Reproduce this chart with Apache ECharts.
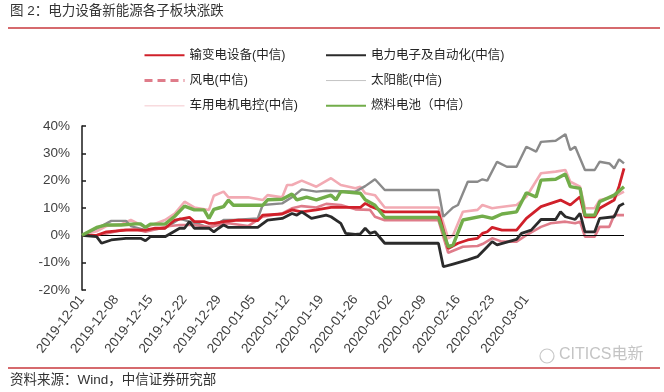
<!DOCTYPE html>
<html><head><meta charset="utf-8">
<script src="https://cdn.jsdelivr.net/npm/echarts@6/dist/echarts.min.js"></script>
<style>html,body{margin:0;padding:0;background:#fff}#c{width:664px;height:392px}</style>
</head><body><div id="c"></div>
<script>
// x values are day offsets from 2019-12-01; y values in %
const tickLabels = ['2019-12-01','2019-12-08','2019-12-15','2019-12-22','2019-12-29','2020-01-05','2020-01-12','2020-01-19','2020-01-26','2020-02-02','2020-02-09','2020-02-16','2020-02-23','2020-03-01'];
const yTicks = [-20,-10,0,10,20,30,40];

const shuBianDian = [[0,0],[3,0],[5,1.3],[9,1.9],[13,1.9],[15,2.6],[17,2.6],[19,5.6],[22,6.6],[23,5],[25,5],[26,4.4],[27,4.4],[29,5],[32,5.6],[36,5.4],[37,7.4],[41,7.8],[43,9.3],[45,8.6],[48,9.3],[51,10.2],[57,10.2],[58,11.7],[59,10.7],[62,8.6],[73,8.6],[75,-4.8],[77,-2.9],[79,-1.7],[81,-1.1],[82,0.7],[83,1.3],[84,2.9],[86,1.9],[89,1.9],[91,6.2],[94,10.5],[96,11.7],[98,12.9],[100,11.1],[102,14.1],[103,6.8],[105,6.8],[106,9.9],[109,12.9],[110,18],[111,24.5]];
const dianLiDianZi = [[0,0],[3,-0.5],[4,-2.9],[6,-1.7],[9,-1.1],[12,-1.1],[13,-2],[14,-0.5],[17,-0.5],[20,2.6],[21,2.6],[22,5],[23,2.6],[26,2.6],[27,1.3],[28,2.6],[29,3.8],[30,2.9],[36,2.9],[38,5.6],[41,6.2],[43,8],[44,7.4],[45,8.6],[47,6.2],[50,7.4],[51,6.8],[53,4.4],[54,0.7],[56,0.3],[57,0.5],[58,2.6],[59,0.7],[60,1.3],[62,-2.9],[73,-2.9],[74,-11.5],[76,-10.5],[79,-9],[81,-7.8],[83,-4.2],[84,-2.3],[85,-3.5],[87,-2.5],[89,-1.5],[90,0.7],[92,1.9],[94,5.8],[97,5.8],[98,8.6],[99,6.8],[101,5.8],[102,8],[103,1.3],[105,1.3],[106,6.2],[109,6.8],[110,10.7],[111,11.7]];
const fengDian = [[0,0],[3,0],[5,0.7],[8,1.9],[11,2.2],[13,1.3],[16,2.6],[18,3.4],[20,3.8],[23,3.8],[26,3.1],[27,3.4],[30,4.4],[34,3.4],[37,6.8],[41,8],[43,9.9],[45,10.7],[48,10.2],[50,11.5],[53,11.1],[56,9.5],[59,9.3],[60,6.8],[62,5.5],[73,5.5],[75,-6.4],[78,-4.2],[81,-3.9],[82,-3.2],[84,-1.1],[86,-2.3],[89,-2.3],[91,0.1],[94,3.1],[96,4.4],[99,5],[101,4.4],[102,5],[103,-0.5],[105,-0.5],[106,3.1],[108,3.1],[109,7.4],[111,7.4]];
const taiYangNeng = [[0,0],[3,2.5],[6,5.3],[9,5.3],[10,3.4],[13,1.9],[17,2.6],[20,6.1],[22,5],[24,4.1],[26,2.6],[27,3.4],[29,5.6],[31,5.6],[36,6.2],[37,11.1],[41,11.7],[43,13.9],[45,16.8],[48,16],[50,16.3],[56,16],[58,18],[60,20.5],[62,16.6],[73,16.6],[74,6.8],[76,10.2],[77,11.1],[79,19.6],[81,19.6],[82,20.5],[83,20],[85,26.9],[87,25.1],[89,25.1],[91,32.4],[93,30.6],[94,34.2],[97,34.6],[99,37],[100,31.2],[101,32.4],[103,23.9],[105,23.9],[106,26.9],[108,26.3],[109,24.5],[110,27.8],[111,26.3]];
const cheYong = [[0,0],[3,1.5],[5,3.4],[8,4],[10,5.6],[13,2.9],[17,5.6],[19,8],[21,12.3],[23,10.2],[26,9.3],[27,14.5],[29,16],[30,13.9],[34,13.9],[37,12.9],[38,14.7],[41,13.9],[42,18.4],[43,18.4],[45,20],[48,17.8],[51,20.9],[53,18.4],[56,17.2],[57,17.8],[58,15.4],[60,14.7],[62,10.2],[73,10.2],[75,-1.1],[76,0.1],[78,8.6],[81,9.3],[82,11.1],[84,9.9],[85,10.2],[89,11.1],[91,14.1],[94,22.7],[97,23.3],[99,23.9],[100,19.6],[102,17.8],[103,9.9],[105,9.9],[106,12.9],[109,14.1],[111,16]];
const ranLiao = [[0,0],[3,2.9],[5,3.8],[8,3.8],[11,4.2],[12,4.2],[13,2.9],[14,4.1],[17,4.1],[19,7],[21,10.7],[23,9.3],[25,9.3],[26,6.2],[27,9.5],[28,10],[29,10.5],[30,12.9],[31,11],[37,11],[38,13],[41,13.2],[43,15.1],[44,13],[46,14],[48,13],[51,14.7],[52,13],[53,16],[57,15.4],[58,13],[60,11],[62,6.5],[73,6.5],[75,-4.2],[76,-3.5],[78,5.6],[82,7],[84,6.2],[86,7.8],[89,8.6],[91,15.6],[93,14],[94,20.2],[97,20.5],[99,22.4],[100,17.8],[102,17.2],[103,7.4],[105,7.4],[106,12.3],[109,14.7],[111,17.8]];

const FONT = '"Liberation Sans","Noto Sans CJK SC",sans-serif';
const chart = echarts.init(document.getElementById('c'), null, {renderer:'canvas'});

function line(name, data, color, width, z){
  return {name, type:'line', data, symbol:'none', z, animation:false,
    lineStyle:{color, width}, itemStyle:{color}};
}

const series = [
  line('车用电机电控(中信)', cheYong, '#f2aab3', 2.6, 2),
  line('太阳能(中信)', taiYangNeng, '#8a8a8a', 2.4, 3),
  line('风电(中信)', fengDian, '#df7c8a', 2.6, 4),
  line('输变电设备(中信)', shuBianDian, '#d0202a', 2.8, 5),
  line('电力电子及自动化(中信)', dianLiDianZi, '#2b2b2b', 2.8, 6),
  line('燃料电池（中信）', ranLiao, '#72ad4a', 3.4, 7)
];
series[0].markLine = {silent:true, symbol:'none', label:{show:false}, animation:false,
  lineStyle:{color:'#000', width:1.2, type:'solid'}, data:[{yAxis:0}]};

const legendBase = {orient:'vertical', top:49, padding:0, itemWidth:40, itemHeight:14, itemGap:12.8,
  itemStyle:{opacity:0}, textStyle:{fontSize:12.5, color:'#262626', fontFamily:FONT}};

chart.setOption({
  backgroundColor:'#fff',
  animation:false,
  textStyle:{fontFamily:FONT},
  grid:{left:82, top:126, width:542, height:164, containLabel:false},
  legend:[
    Object.assign({left:143, data:[{name:'输变电设备(中信)'},{name:'风电(中信)', lineStyle:{type:[8,5], width:3}},{name:'车用电机电控(中信)', lineStyle:{width:1, color:'#f4c9cd'}}]}, legendBase),
    Object.assign({left:325, data:[{name:'电力电子及自动化(中信)'},{name:'太阳能(中信)', lineStyle:{width:1, color:'#c4c4c4'}},{name:'燃料电池（中信）'}]}, legendBase)
  ],
  xAxis:{type:'value', min:0, max:111, interval:7,
    axisLine:{show:false, onZero:false}, axisTick:{show:false}, splitLine:{show:false},
    axisLabel:{rotate:52, fontSize:13.5, color:'#404040', margin:7, fontFamily:FONT,
      formatter:v => (v % 7 === 0 && v/7 < tickLabels.length) ? tickLabels[v/7] : ''}},
  yAxis:{type:'value', min:yTicks[0], max:yTicks[yTicks.length-1], interval:10,
    axisLine:{show:true, onZero:false, lineStyle:{color:'#1a1a1a', width:1.5}},
    axisTick:{show:true, inside:true, length:4, lineStyle:{color:'#1a1a1a', width:1.5}},
    splitLine:{show:false},
    axisLabel:{fontSize:13.5, color:'#404040', margin:12, fontFamily:FONT, formatter:'{value}%'}},
  graphic:[
    {type:'text', left:10, top:5, style:{text:'图 2：电力设备新能源各子板块涨跌', font:'13.5px '+FONT, fill:'#333'}},
    {type:'line', shape:{x1:8, y1:28, x2:660, y2:28}, style:{stroke:'#c8383c', lineWidth:1.5}},
    {type:'line', shape:{x1:8, y1:368, x2:660, y2:368}, style:{stroke:'#c8383c', lineWidth:1.5}},
    {type:'text', left:10, top:374, style:{text:'资料来源：Wind，中信证券研究部', font:'13.5px '+FONT, fill:'#333'}},
    {type:'circle', shape:{cx:547, cy:356, r:7}, style:{fill:'none', stroke:'#c8c8c8', lineWidth:1.2}},
    {type:'text', left:559, top:347, style:{text:'CITICS电新', font:'16px '+FONT, fill:'#c4c4c4'}}
  ],
  series
});
</script></body></html>
